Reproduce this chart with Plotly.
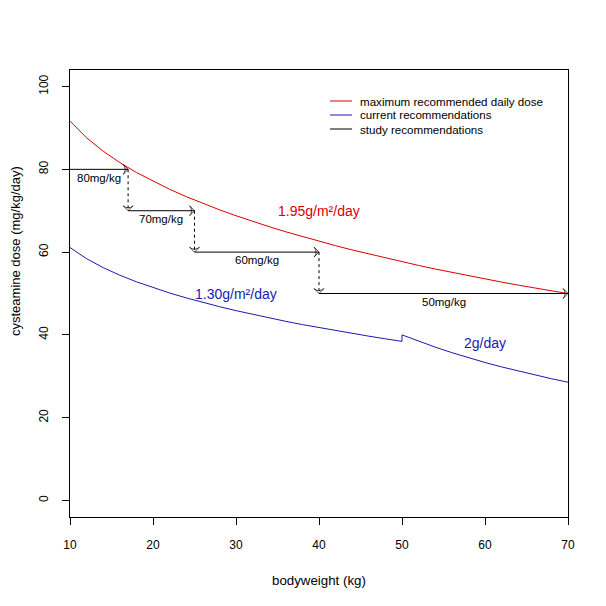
import plotly.graph_objects as go

# bodyweight (kg)
weights = [10, 12, 14, 16, 18, 20, 22, 24, 26, 28, 30, 32, 34, 36, 38, 40,
           42, 44, 46, 48, 50, 52, 54, 56, 58, 60, 62, 64, 66, 68, 70]
# maximum recommended daily dose, 1.95 g/m²/day (mg/kg/day)
max_dose = [91.65, 87.62, 84.38, 81.63, 79.24, 77.11, 75.18, 73.41, 71.77, 70.23,
            68.79, 67.43, 66.14, 64.91, 63.74, 62.63, 61.55, 60.52, 59.54, 58.58,
            57.66, 56.78, 55.92, 55.09, 54.29, 53.52, 52.76, 52.03, 51.33, 50.64, 49.97]
# current recommendations (1.30 g/m²/day below 50 kg, 2 g/day from 50 kg)
cur_weights = [10, 12, 14, 16, 18, 20, 22, 24, 26, 28, 30, 32, 34, 36, 38, 40,
               42, 44, 46, 48, 50, 50, 52, 54, 56, 58, 60, 62, 64, 66, 68, 70]
cur_dose = [61.10, 58.41, 56.25, 54.42, 52.83, 51.41, 50.12, 48.94, 47.85, 46.82,
            45.86, 44.95, 44.09, 43.27, 42.49, 41.75, 41.03, 40.35, 39.69, 39.05,
            38.44, 40.00, 38.46, 37.04, 35.71, 34.48, 33.33, 32.26, 31.25, 30.30, 29.41, 28.57]
# study recommendations: weight bands and dose
band_start = [10, 17, 25, 40]
band_end = [17, 25, 40, 70]
band_dose = [80, 70, 60, 50]
band_labels = ["80mg/kg", "70mg/kg", "60mg/kg", "50mg/kg"]

RED = "#dc0000"
BLUE = "#1a1ab0"
FONT = "Liberation Sans, Arial, sans-serif"

fig = go.Figure()
fig.add_trace(go.Scatter(x=weights, y=max_dose, mode="lines",
                         line=dict(color=RED, width=1), showlegend=False))
fig.add_trace(go.Scatter(x=cur_weights, y=cur_dose, mode="lines",
                         line=dict(color=BLUE, width=1), showlegend=False))

arrow_marker = dict(symbol="arrow-wide-open", angleref="previous", size=[0, 7],
                    color="black", line=dict(width=1, color="black"))
for i in range(len(band_dose)):
    fig.add_trace(go.Scatter(x=[band_start[i], band_end[i]], y=[band_dose[i], band_dose[i]],
                             mode="lines+markers", line=dict(color="black", width=1),
                             marker=arrow_marker, showlegend=False, cliponaxis=False))
    if i + 1 < len(band_dose):
        fig.add_trace(go.Scatter(x=[band_end[i], band_end[i]], y=[band_dose[i], band_dose[i + 1]],
                                 mode="lines+markers", line=dict(color="black", width=1, dash="3px,3px"),
                                 marker=arrow_marker, showlegend=False))
    fig.add_annotation(x=(band_start[i] + band_end[i]) / 2, y=band_dose[i] - 2, text=band_labels[i],
                       showarrow=False, font=dict(size=11.5, color="black", family=FONT))

fig.add_annotation(x=40, y=70, text="1.95g/m²/day", showarrow=False,
                   font=dict(size=14, color=RED, family=FONT))
fig.add_annotation(x=30, y=50, text="1.30g/m²/day", showarrow=False,
                   font=dict(size=14, color=BLUE, family=FONT))
fig.add_annotation(x=60, y=38, text="2g/day", showarrow=False,
                   font=dict(size=14, color=BLUE, family=FONT))

# page body has an 8px margin: figure origin sits at (8, 8) on screen
OFF = 8
W, H = 606, 606
L, R, T, B = 70 - OFF, 606 - 568 + OFF, 70 - OFF, 606 - 517 + OFF
pw, ph = W - L - R, H - T - B


def px_to_paper_x(xs):
    return (xs - OFF - L) / pw


def px_to_paper_y(ys):
    return (H - B - (ys - OFF)) / ph


legend_items = [("maximum recommended daily dose", RED),
                ("current recommendations", BLUE),
                ("study recommendations", "black")]
for k, (name, col) in enumerate(legend_items):
    yp = px_to_paper_y(101 + 14 * k)
    fig.add_shape(type="line", xref="paper", yref="paper",
                  x0=px_to_paper_x(330), x1=px_to_paper_x(352), y0=yp, y1=yp,
                  line=dict(color=col, width=1))
    fig.add_annotation(xref="paper", yref="paper", x=px_to_paper_x(358), y=yp, text=name,
                       showarrow=False, xanchor="left", yanchor="middle",
                       font=dict(size=11.6, color="black", family=FONT))

fig.add_annotation(xref="paper", yref="paper", x=px_to_paper_x(319), y=px_to_paper_y(580),
                   text="bodyweight (kg)", showarrow=False, yanchor="middle",
                   font=dict(size=13.3, color="black", family=FONT))
fig.add_annotation(xref="paper", yref="paper", x=px_to_paper_x(15), y=px_to_paper_y(251),
                   text="cysteamine dose (mg/kg/day)", showarrow=False, textangle=-90,
                   xanchor="center", yanchor="middle",
                   font=dict(size=13, color="black", family=FONT))

fig.update_layout(
    width=W, height=H, margin=dict(l=L, r=R, t=T, b=B, autoexpand=False),
    paper_bgcolor="white", plot_bgcolor="white", showlegend=False,
    font=dict(family=FONT, size=12, color="black"),
)
fig.update_xaxes(range=[10, 70], tickvals=[10, 20, 30, 40, 50, 60, 70], showgrid=False, zeroline=False,
                 showline=True, linecolor="black", linewidth=1, mirror=True, automargin=False,
                 ticks="outside", ticklen=7, tickcolor="black", ticklabelstandoff=10,
                 tickfont=dict(size=12, family=FONT))
fig.update_yaxes(range=[-4, 104], tickvals=[0, 20, 40, 60, 80, 100], showgrid=False, zeroline=False,
                 showline=True, linecolor="black", linewidth=1, mirror=True, automargin=False,
                 ticks="outside", ticklen=7, tickcolor="black", tickangle=-90, ticklabelstandoff=9,
                 tickfont=dict(size=12, family=FONT))

fig.write_html("out.html")
